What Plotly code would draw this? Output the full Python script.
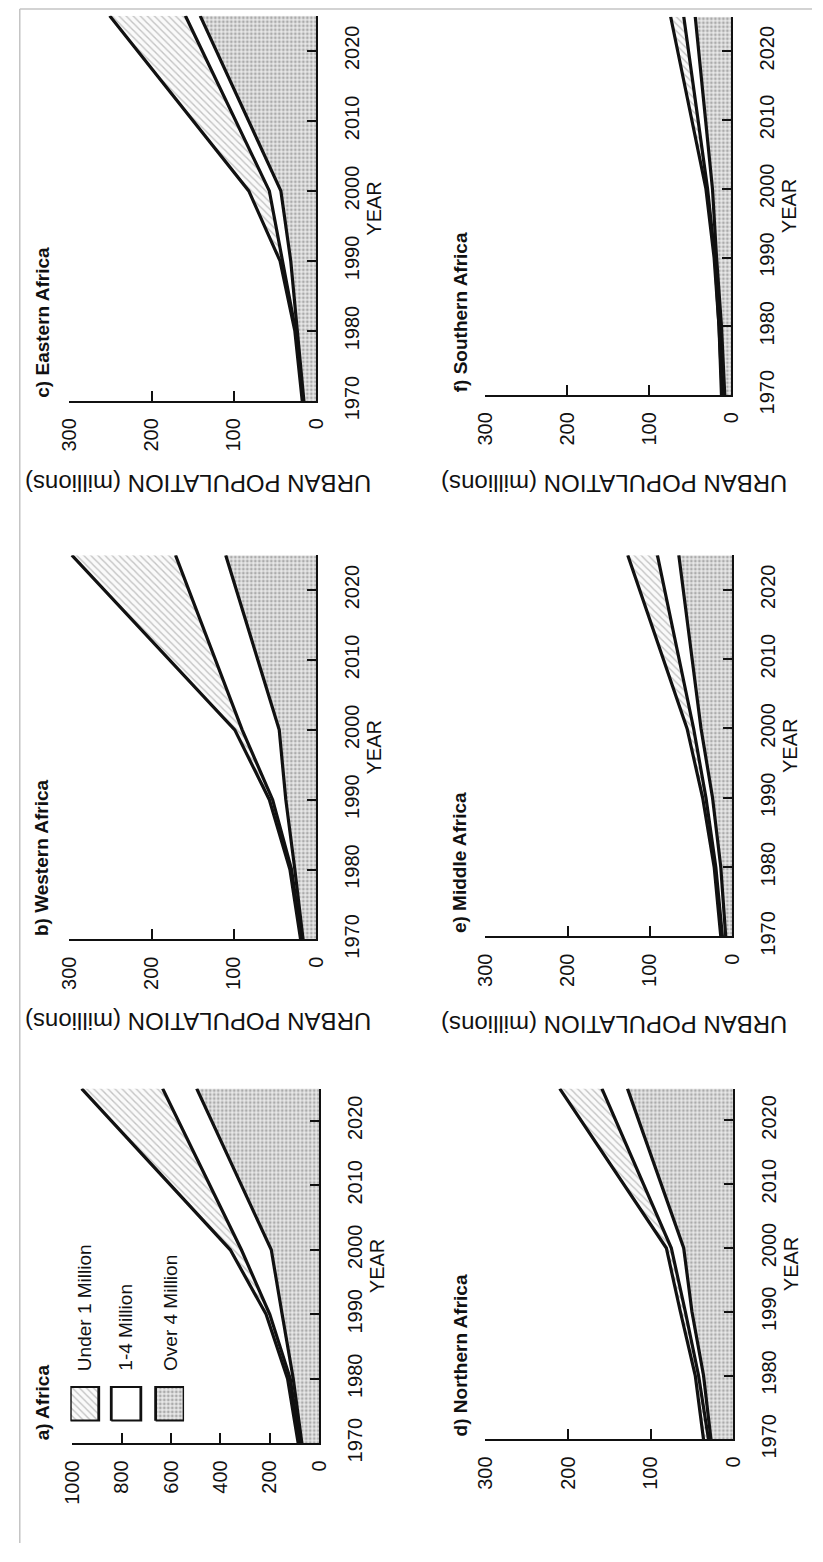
import plotly.graph_objects as go

W, H = 823, 1562

# ---------------- data (millions) ----------------
years = [1970, 1980, 1990, 2000, 2025]
year_ticks = [1970, 1980, 1990, 2000, 2010, 2020]
categories = ["Over 4 Million", "1-4 Million", "Under 1 Million"]
region_titles = ["a) Africa", "b) Western Africa", "c) Eastern Africa",
                 "d) Northern Africa", "e) Middle Africa", "f) Southern Africa"]

# Over 4 Million (bottom layer, dotted)
over4_africa = [70, 105, 150, 194, 496]
over4_western = [16, 26, 37, 45, 110]
over4_eastern = [15, 23, 31, 43, 141]
over4_northern = [27, 36, 50, 60, 128]
over4_middle = [8, 14, 24, 38, 65]
over4_southern = [8, 12, 18, 23, 44]

# 1-4 Million (middle layer, blank)
mid_africa = [8, 12, 50, 121, 138]
mid_western = [2, 4, 16, 45, 61]
mid_eastern = [1, 2, 10, 14, 18]
mid_northern = [3, 6, 8, 15, 31]
mid_middle = [4, 6, 8, 9, 26]
mid_southern = [3, 3, 2, 6, 14]

# Under 1 Million (top layer, hatched)
under1_africa = [7, 11, 15, 45, 328]
under1_western = [1, 2, 4, 9, 126]
under1_eastern = [1, 1, 3, 25, 92]
under1_northern = [6, 4, 6, 6, 51]
under1_middle = [2, 2, 4, 8, 36]
under1_southern = [1, 0, 1, 2, 16]

pop_max = [1000, 300, 300, 300, 300, 300]
pop_dtick = [200, 100, 100, 100, 100, 100]

series = [
    (over4_africa, mid_africa, under1_africa),
    (over4_western, mid_western, under1_western),
    (over4_eastern, mid_eastern, under1_eastern),
    (over4_northern, mid_northern, under1_northern),
    (over4_middle, mid_middle, under1_middle),
    (over4_southern, mid_southern, under1_southern),
]

# ---------------- layout geometry (pixels) ----------------
# (left, right, top, bottom) of each plotting area
boxes = [
    (62, 316, 1102, 1461),
    (59, 313, 562, 951),
    (59, 313, 16, 406),
    (487, 742, 1102, 1457),
    (487, 741, 562, 948),
    (487, 740, 17, 400),
]
title_x = [31, 31, 31, 461, 461, 461]
ytitle_y = [None, 1034, 490, None, 1037, 490]

FONT = "Liberation Sans, Arial, Helvetica, sans-serif"
BLACK = "#111111"
DOT = dict(shape=".", size=4, solidity=0.4, fgcolor="#6e6e6e", bgcolor="#e8e8e8")
HATCH = dict(shape="\\", size=5, solidity=0.28, fgcolor="#8c8c8c", bgcolor="#fafafa")

fig = go.Figure()
layout = dict(
    width=W, height=H, margin=dict(l=0, r=0, t=0, b=0),
    paper_bgcolor="white", plot_bgcolor="white", showlegend=False,
    font=dict(family=FONT, color=BLACK, size=20),
)
annotations = []


def px_x(v):
    return v / W


def px_y(v):
    return 1 - v / H


for i, (o4, m14, u1) in enumerate(series):
    n = i + 1
    xa = "x" if n == 1 else f"x{n}"
    ya = "y" if n == 1 else f"y{n}"
    l, r, t, b = boxes[i]
    c1 = list(o4)
    c2 = [a + bb for a, bb in zip(c1, m14)]
    c3 = [a + bb for a, bb in zip(c2, u1)]

    fig.add_trace(go.Scatter(x=c1, y=years, xaxis=xa, yaxis=ya, mode="lines",
                             line=dict(width=0), fill="tozerox",
                             fillpattern=DOT, hoverinfo="skip", name=categories[0]))
    fig.add_trace(go.Scatter(x=c2, y=years, xaxis=xa, yaxis=ya, mode="lines",
                             line=dict(width=0), fill="tonextx", fillcolor="white",
                             hoverinfo="skip", name=categories[1]))
    fig.add_trace(go.Scatter(x=c3, y=years, xaxis=xa, yaxis=ya, mode="lines",
                             line=dict(width=0), fill="tonextx",
                             fillpattern=HATCH, hoverinfo="skip", name=categories[2]))
    for c in (c1, c2, c3):
        fig.add_trace(go.Scatter(x=c, y=years, xaxis=xa, yaxis=ya, mode="lines",
                                 line=dict(width=3.2, color=BLACK), hoverinfo="skip"))

    xkey = "xaxis" if n == 1 else f"xaxis{n}"
    ykey = "yaxis" if n == 1 else f"yaxis{n}"
    layout[xkey] = dict(
        domain=[px_x(l), px_x(r)], anchor=ya, range=[pop_max[i], 0],
        tickmode="linear", tick0=0, dtick=pop_dtick[i],
        ticks="inside", ticklen=10, tickwidth=1.8, tickcolor=BLACK,
        showline=True, linewidth=2.2, linecolor=BLACK, showgrid=False, zeroline=False,
        tickangle=-90, ticklabelstandoff=7, tickfont=dict(size=20, family=FONT),
    )
    layout[ykey] = dict(
        domain=[px_y(b), px_y(t)], anchor=xa, range=[1970, 2025], side="right",
        tickmode="array", tickvals=year_ticks,
        ticks="inside", ticklen=9, tickwidth=1.8, tickcolor=BLACK,
        showline=True, linewidth=2.2, linecolor=BLACK, showgrid=False, zeroline=False,
        tickangle=-90, ticklabelstandoff=17, tickfont=dict(size=20, family=FONT),
        title=dict(text="YEAR", font=dict(size=20, family=FONT), standoff=3),
    )
    annotations.append(dict(
        text=f"<b>{region_titles[i]}</b>", xref="paper", yref="paper",
        x=px_x(title_x[i]), y=px_y(b - 1), xanchor="center", yanchor="bottom",
        textangle=-90, showarrow=False, font=dict(size=19, family=FONT, color=BLACK)))
    if ytitle_y[i] is not None:
        annotations.append(dict(
            text="URBAN POPULATION (millions)", xref="paper", yref="paper",
            x=px_x((l + r) / 2 + 6), y=px_y(ytitle_y[i]), xanchor="center", yanchor="middle",
            textangle=180, showarrow=False, font=dict(size=24, family=FONT, color=BLACK)))

# ---------------- custom legend (panel a) ----------------
leg_l, leg_r, leg_t, leg_b = 60, 177, 1403, 1439
layout["xaxis7"] = dict(domain=[px_x(leg_l), px_x(leg_r)], range=[0, 1], visible=False,
                        anchor="y7", fixedrange=True)
layout["yaxis7"] = dict(domain=[px_y(leg_b), px_y(leg_t)], range=[0, 1], visible=False,
                        anchor="x7", fixedrange=True)
legend_cols = [(0.0, 0.25), (0.36, 0.62), (0.75, 1.0)]
legend_fill = [HATCH, None, DOT]
legend_labels = ["Under 1 Million", "1-4 Million", "Over 4 Million"]
for (a0, a1), fp, lab in zip(legend_cols, legend_fill, legend_labels):
    kw = dict(fillpattern=fp) if fp else dict(fillcolor="white")
    fig.add_trace(go.Scatter(x=[a0, a1, a1, a0, a0], y=[0.02, 0.02, 0.98, 0.98, 0.02],
                             xaxis="x7", yaxis="y7", mode="lines", fill="toself",
                             line=dict(color=BLACK, width=2.8), hoverinfo="skip", **kw))
    cx = leg_l + (a0 + a1) / 2 * (leg_r - leg_l)
    annotations.append(dict(
        text=lab, xref="paper", yref="paper", x=px_x(cx), y=px_y(1390),
        xanchor="center", yanchor="bottom", textangle=-90, showarrow=False,
        font=dict(size=19, family=FONT, color=BLACK)))

layout["annotations"] = annotations
layout["shapes"] = [
    dict(type="line", xref="paper", yref="paper", x0=px_x(8), x1=px_x(8), y0=0, y1=px_y(9),
         line=dict(color="#c4c4c4", width=1.5)),
    dict(type="line", xref="paper", yref="paper", x0=px_x(8), x1=1, y0=px_y(9), y1=px_y(9),
         line=dict(color="#c4c4c4", width=1.5)),
]
fig.update_layout(**layout)
fig.write_html("out.html")
